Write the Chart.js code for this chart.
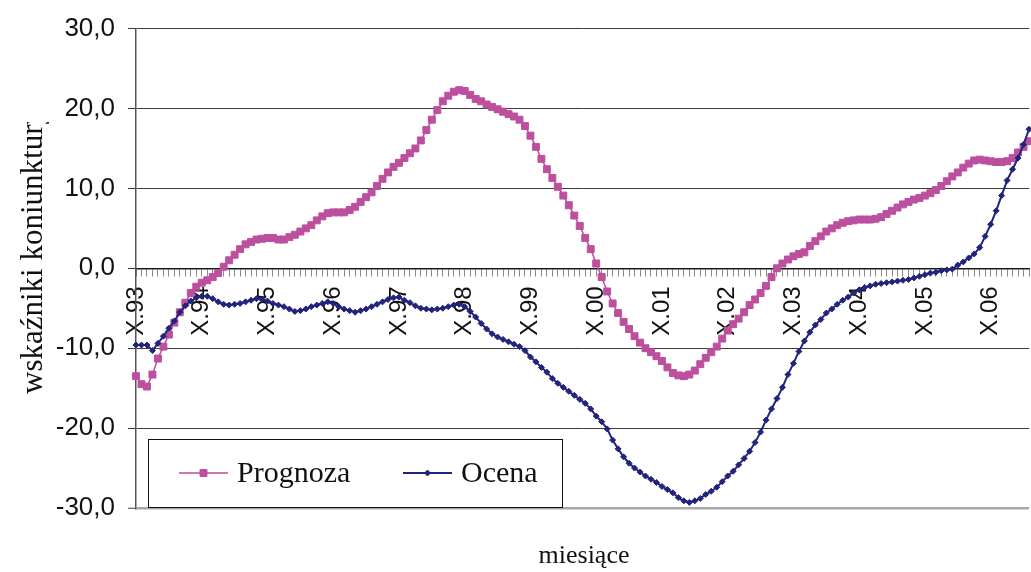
<!DOCTYPE html>
<html lang="pl">
<head>
<meta charset="utf-8">
<title>Wskaźniki koniunktury</title>
<script src="https://cdn.jsdelivr.net/npm/chart.js@4/dist/chart.umd.min.js"></script>
<style>
  html, body { margin: 0; padding: 0; background: #fff; }
  #wrap { width: 1031px; height: 572px; position: relative; }
</style>
</head>
<body>
<div id="wrap"><canvas id="chart"></canvas></div>
<script>
// Monthly series, October 1993 onwards
const romanMonths = ['I', 'II', 'III', 'IV', 'V', 'VI', 'VII', 'VIII', 'IX', 'X', 'XI', 'XII'];
const firstMonth = 9;      // index of X in romanMonths
const firstYear = 93;

const prognoza = [
  -13.5, -14.5, -14.8, -13.3, -11.3, -9.8, -8.3, -6.8, -5.5, -4.3,
  -3.1, -2.3, -1.8, -1.5, -1.1, -0.6, 0.2, 1.0, 1.7, 2.4,
  3.0, 3.3, 3.6, 3.7, 3.8, 3.8, 3.6, 3.6, 3.9, 4.2,
  4.6, 5.0, 5.4, 6.0, 6.5, 6.9, 7.0, 7.0, 7.0, 7.3,
  7.7, 8.3, 8.9, 9.5, 10.3, 11.2, 12.0, 12.7, 13.2, 13.8,
  14.4, 15.0, 16.0, 17.3, 18.6, 19.8, 20.9, 21.6, 22.1, 22.3,
  22.2, 21.7, 21.2, 20.9, 20.5, 20.2, 19.9, 19.6, 19.3, 19.0,
  18.6, 17.8, 16.6, 15.2, 13.7, 12.4, 11.3, 10.2, 9.1, 7.9,
  6.6, 5.3, 3.8, 2.4, 0.6, -1.1, -2.9, -4.4, -5.6, -6.7,
  -7.6, -8.5, -9.3, -10.0, -10.5, -11.0, -11.6, -12.4, -13.1, -13.4,
  -13.5, -13.3, -12.8, -12.0, -11.2, -10.5, -9.8, -8.8, -7.8, -7.0,
  -6.3, -5.5, -4.6, -3.9, -3.1, -2.2, -1.1, 0.0, 0.6, 1.1,
  1.5, 1.8, 2.0, 2.8, 3.4, 4.0, 4.6, 5.0, 5.4, 5.7,
  5.9, 6.0, 6.1, 6.1, 6.1, 6.2, 6.4, 6.8, 7.2, 7.6,
  8.0, 8.3, 8.6, 8.8, 9.1, 9.4, 9.8, 10.3, 10.9, 11.5,
  12.0, 12.6, 13.1, 13.5, 13.6, 13.5, 13.4, 13.3, 13.3, 13.4,
  13.8, 14.5, 15.2, 15.9
];

const ocena = [
  -9.6, -9.6, -9.6, -10.3, -9.4, -8.5, -7.5, -6.6, -5.5, -4.7,
  -4.1, -3.7, -3.5, -3.5, -3.8, -4.2, -4.5, -4.6, -4.5, -4.4,
  -4.2, -4.0, -3.8, -3.9, -4.1, -4.4, -4.6, -4.8, -5.1, -5.4,
  -5.3, -5.1, -4.8, -4.6, -4.4, -4.2, -4.4, -4.8, -5.1, -5.3,
  -5.5, -5.3, -5.1, -4.8, -4.5, -4.2, -3.9, -3.7, -3.6, -4.0,
  -4.3, -4.7, -5.0, -5.1, -5.2, -5.1, -5.0, -4.8, -4.6, -4.5,
  -4.8, -5.4, -6.1, -6.9, -7.6, -8.2, -8.6, -8.9, -9.2, -9.5,
  -9.8, -10.3, -11.1, -11.7, -12.4, -13.0, -13.8, -14.4, -14.9, -15.4,
  -15.9, -16.4, -16.9, -17.6, -18.5, -19.2, -20.1, -21.5, -22.6, -23.6,
  -24.4, -25.0, -25.5, -26.0, -26.4, -26.8, -27.3, -27.7, -28.1, -28.7,
  -29.1, -29.3, -29.1, -28.8, -28.3, -27.9, -27.4, -26.7, -26.0, -25.4,
  -24.6, -23.8, -22.9, -21.8, -20.5, -19.0, -17.6, -16.3, -14.9, -13.3,
  -11.9, -10.4, -9.1, -8.0, -7.1, -6.4, -5.6, -5.1, -4.5, -4.0,
  -3.6, -3.1, -2.7, -2.4, -2.2, -2.0, -1.9, -1.8, -1.7, -1.6,
  -1.5, -1.4, -1.2, -1.0, -0.8, -0.6, -0.5, -0.3, -0.2, -0.1,
  0.4, 0.8, 1.3, 1.8, 2.6, 4.0, 5.5, 7.2, 9.1, 11.0,
  12.4, 13.8, 15.5, 17.4
];

const yTicks = [-30, -20, -10, 0, 10, 20, 30];
const labeledMonth = 'X';
const yTitle = 'wskaźniki koniunktury';
const xTitle = 'miesiące';
const seriesNames = ['Prognoza', 'Ocena'];

const PINK = '#bd4f9f';
const NAVY = '#21247a';

// month categories: "X.93", "XI.93", ... "I.94", ...
const months = prognoza.map((_, i) => {
  const m = (firstMonth + i) % 12;
  const y = (firstYear + Math.floor((firstMonth + i) / 12)) % 100;
  return romanMonths[m] + '.' + String(y).padStart(2, '0');
});

const fmt = v => v.toFixed(1).replace('.', ',');

// axis captions and the boxed legend inside the plot
const chartDecor = {
  id: 'chartDecor',
  afterDraw(chart) {
    const { ctx, chartArea: ca } = chart;
    const serif = '"Liberation Serif", "Times New Roman", serif';
    ctx.save();
    ctx.fillStyle = '#111';

    // vertical axis caption (clipped at the top like a fixed text frame)
    ctx.save();
    ctx.beginPath();
    ctx.rect(0, 122, 70, 420);
    ctx.clip();
    ctx.translate(41.5, 394);
    ctx.rotate(-Math.PI / 2);
    ctx.font = '31px ' + serif;
    ctx.textAlign = 'left';
    ctx.textBaseline = 'alphabetic';
    ctx.fillText(yTitle, 0, 0);
    ctx.restore();

    // horizontal axis caption
    ctx.font = '26px ' + serif;
    ctx.textAlign = 'center';
    ctx.textBaseline = 'alphabetic';
    ctx.fillText(xTitle, 584, 563);

    // legend box
    const x0 = ca.left + 12, y1 = ca.bottom, y0 = y1 - 69, x1 = x0 + 414;
    ctx.fillStyle = '#fff';
    ctx.fillRect(x0, y0, x1 - x0, y1 - y0);
    ctx.strokeStyle = '#111';
    ctx.lineWidth = 1;
    ctx.strokeRect(x0 + 0.5, y0 + 0.5, x1 - x0, y1 - y0 - 1);

    const ym = y0 + 34;
    const items = [
      { ds: chart.data.datasets[0], lx: x0 + 31, tx: x0 + 89 },
      { ds: chart.data.datasets[1], lx: x0 + 255, tx: x0 + 313 }
    ];
    items.forEach(({ ds, lx, tx }) => {
      ctx.strokeStyle = ds.borderColor;
      ctx.lineWidth = ds.borderWidth;
      ctx.beginPath();
      ctx.moveTo(lx, ym);
      ctx.lineTo(lx + 49, ym);
      ctx.stroke();
      ctx.fillStyle = ds.pointBackgroundColor;
      ctx.strokeStyle = ds.pointBorderColor;
      ctx.lineWidth = ds.pointBorderWidth;
      Chart.helpers.drawPoint(ctx, {
        pointStyle: ds.pointStyle, radius: ds.pointRadius, rotation: 0,
        borderWidth: ds.pointBorderWidth
      }, lx + 24.5, ym);
      ctx.fillStyle = '#111';
      ctx.font = '30px ' + serif;
      ctx.textAlign = 'left';
      ctx.textBaseline = 'middle';
      ctx.fillText(ds.label, tx, ym + 1);
    });
    ctx.restore();
  }
};

new Chart(document.getElementById('chart'), {
  type: 'line',
  data: {
    labels: months,
    datasets: [
      {
        label: seriesNames[0],
        data: prognoza,
        order: 1,
        clip: 8,
        borderColor: PINK,
        borderWidth: 1.5,
        pointStyle: 'rect',
        pointRadius: 4.9,
        pointBackgroundColor: PINK,
        pointBorderColor: PINK,
        pointBorderWidth: 1,
        tension: 0
      },
      {
        label: seriesNames[1],
        data: ocena,
        order: 0,
        clip: 8,
        borderColor: NAVY,
        borderWidth: 2,
        pointStyle: 'rectRot',
        pointRadius: 3,
        pointBackgroundColor: NAVY,
        pointBorderColor: NAVY,
        pointBorderWidth: 1,
        tension: 0
      }
    ]
  },
  options: {
    responsive: true,
    maintainAspectRatio: false,
    animation: false,
    events: [],
    layout: { autoPadding: false, padding: { top: 25, right: 2, bottom: 64, left: 0 } },
    plugins: {
      legend: { display: false },
      tooltip: { enabled: false },
      title: { display: false }
    },
    scales: {
      x: {
        type: 'category',
        position: { y: 0 },
        offset: false,
        afterFit(scale) { scale.paddingLeft = 0; scale.paddingRight = 0; },
        grid: {
          drawOnChartArea: false,
          drawTicks: true,
          tickLength: 7,
          color: '#8a8a8a',
          lineWidth: 1
        },
        border: { display: true, color: '#1a1a1a', width: 1.5 },
        ticks: {
          autoSkip: false,
          minRotation: 90,
          maxRotation: 90,
          padding: 11,
          color: '#111',
          font: { family: '"Liberation Sans", Arial, sans-serif', size: 24 },
          callback: function (value, index) {
            const lab = this.getLabelForValue(value);
            return lab.startsWith(labeledMonth + '.') ? lab : '';
          }
        }
      },
      y: {
        min: yTicks[0],
        max: yTicks[yTicks.length - 1],
        afterFit(scale) { scale.width = 136; },
        afterBuildTicks(scale) { scale.ticks = yTicks.map(v => ({ value: v })); },
        grid: {
          drawTicks: true,
          tickLength: 8,
          color: c => (c.tick && c.tick.value === yTicks[0]) ? '#a9a9a9' : '#3c3c3c',
          lineWidth: c => (c.tick && c.tick.value === yTicks[0]) ? 2.5 : 1,
          tickColor: '#3c3c3c',
          tickWidth: 1
        },
        border: { display: true, color: '#555', width: 1.5 },
        ticks: {
          padding: 13,
          color: '#111',
          font: { family: '"Liberation Sans", Arial, sans-serif', size: 26 },
          callback: v => fmt(v)
        }
      }
    }
  },
  plugins: [chartDecor]
});
</script>
</body>
</html>
